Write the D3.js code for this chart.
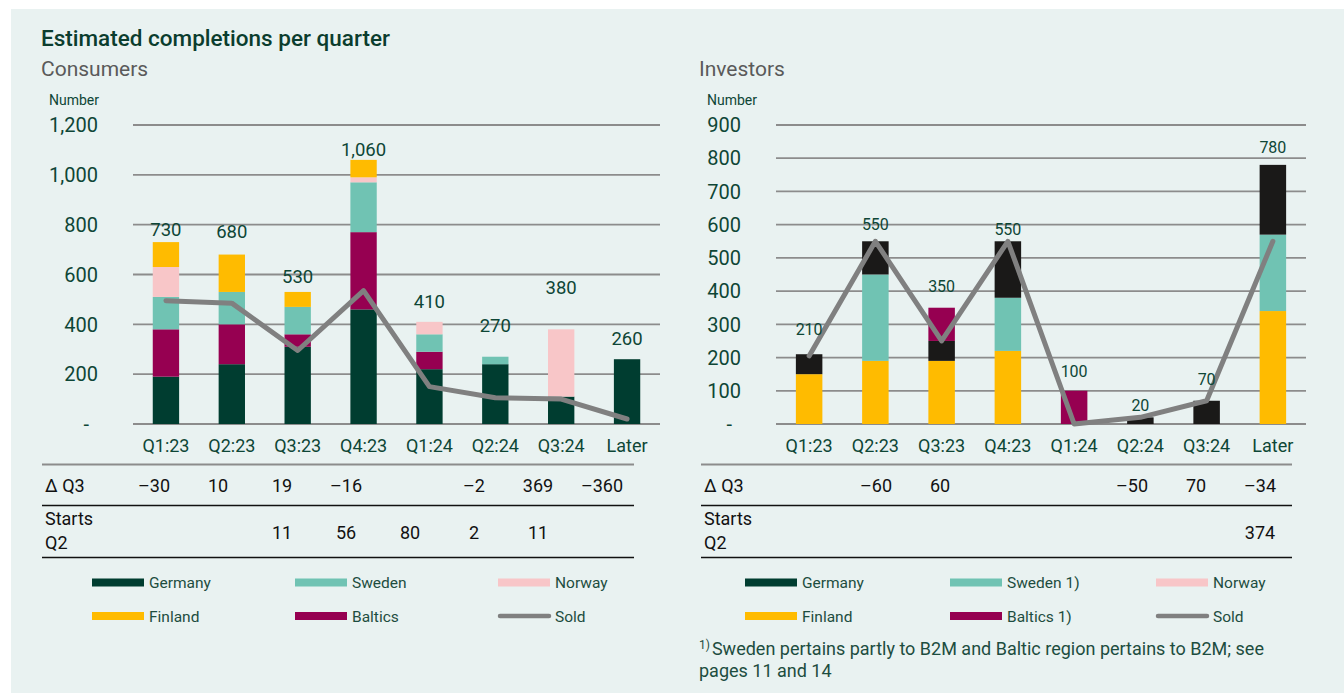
<!DOCTYPE html>
<html>
<head>
<meta charset="utf-8">
<script src="https://cdn.jsdelivr.net/npm/d3@7"></script>
<style>
  html, body { margin: 0; padding: 0; background: #ffffff; }
  svg { display: block; font-family: Roboto, "Noto Sans", sans-serif; }
</style>
</head>
<body>
<svg id="chart" width="1344" height="693"></svg>
<script>
// ---------- DATA ----------
const categories = ["Q1:23", "Q2:23", "Q3:23", "Q4:23", "Q1:24", "Q2:24", "Q3:24", "Later"];

// Consumers
const consumersGermany = [190, 240, 310, 460, 220, 240, 110, 260];
const consumersBaltics = [190, 160, 50, 310, 70, 0, 0, 0];
const consumersSweden  = [130, 130, 110, 200, 70, 30, 0, 0];
const consumersNorway  = [120, 0, 0, 20, 50, 0, 270, 0];
const consumersFinland = [100, 150, 60, 70, 0, 0, 0, 0];
const consumersSold    = [495, 485, 295, 535, 150, 105, 100, 20];
const consumersTotals  = [730, 680, 530, 1060, 410, 270, 380, 260];
const consumersLabelAt = [781, 774, 594, 1103, 494, 397, 547, 344];
const consumersTicks   = [0, 200, 400, 600, 800, 1000, 1200];
const consumersDelta   = ["\u201330", "10", "19", "\u201316", "", "\u20132", "369", "\u2013360"];
const consumersStarts  = ["", "", "11", "56", "80", "2", "11", ""];

// Investors
const investorsFinland = [150, 190, 190, 220, 0, 0, 0, 340];
const investorsSweden  = [0, 260, 0, 160, 0, 0, 0, 230];
const investorsGermany = [60, 100, 60, 170, 0, 20, 70, 210];
const investorsBaltics = [0, 0, 100, 0, 100, 0, 0, 0];
const investorsSold    = [205, 550, 250, 550, 0, 20, 70, 550];
const investorsTotals  = [210, 550, 350, 550, 100, 20, 70, 780];
const investorsLabelAt = [286, 602, 414, 586, 158, 55, 135, 832];
const investorsTicks   = [0, 100, 200, 300, 400, 500, 600, 700, 800, 900];
const investorsDelta   = ["", "\u201360", "60", "", "", "\u201350", "70", "\u201334"];
const investorsStarts  = ["", "", "", "", "", "", "", "374"];

// ---------- STYLE ----------
const C = {
  germany: "#003d30", sweden: "#70c3b3", norway: "#f8c6c8",
  finland: "#ffbb00", baltics: "#960051", black: "#1a1918", sold: "#808080",
  green: "#0e4636", grid: "#8c8c8c", bg: "#e9f2f1"
};

const svg = d3.select("#chart");
svg.append("rect").attr("x", 11).attr("y", 9).attr("width", 1333).attr("height", 684).attr("fill", C.bg);

svg.append("text").attr("x", 41).attr("y", 45.5)
  .attr("font-size", 22.5).attr("font-weight", 500).attr("fill", "#0b3d2e")
  .text("Estimated completions per quarter");

function drawPanel(cfg) {
  const g = svg.append("g");
  // subtitle
  g.append("text").attr("x", cfg.titleX).attr("y", 76).attr("font-size", 21)
    .attr("fill", "#5a5a5a").text(cfg.title);
  g.append("text").attr("x", cfg.numberX).attr("y", 105).attr("font-size", 14)
    .attr("fill", C.green).text("Number");

  const x = d3.scaleBand().domain(categories).range([cfg.gx0, cfg.gx1]).paddingInner(0.6).paddingOuter(0.3);
  const y = d3.scaleLinear().domain([0, cfg.max]).range([424, 125]);

  // gridlines
  g.append("g").selectAll("line").data(cfg.ticks).join("line")
    .attr("x1", cfg.gx0).attr("x2", cfg.gx1)
    .attr("y1", d => y(d)).attr("y2", d => y(d))
    .attr("stroke", C.grid).attr("stroke-width", 1.8);

  // tick labels
  g.append("g").selectAll("text").data(cfg.ticks).join("text")
    .attr("x", d => d === 0 ? cfg.tickRight - 9 : cfg.tickRight)
    .attr("y", d => y(d)).attr("dy", "0.36em")
    .attr("text-anchor", "end").attr("font-size", 20).attr("fill", C.green)
    .text(d => d === 0 ? "-" : d3.format(",")(d));

  // stacked bars
  const rows = categories.map((c, i) => {
    const r = { cat: c };
    cfg.series.forEach(s => r[s.key] = s.values[i]);
    return r;
  });
  const stack = d3.stack().keys(cfg.series.map(s => s.key))(rows);
  const colorOf = Object.fromEntries(cfg.series.map(s => [s.key, s.color]));
  g.append("g").selectAll("g").data(stack).join("g")
    .attr("fill", d => colorOf[d.key])
    .selectAll("rect").data(d => d.filter(p => p[1] - p[0] > 0)).join("rect")
    .attr("x", d => x(d.data.cat))
    .attr("width", x.bandwidth())
    .attr("y", d => y(d[1]))
    .attr("height", d => y(d[0]) - y(d[1]));

  // sold line
  const line = d3.line().x((d, i) => x(categories[i]) + x.bandwidth() / 2).y(d => y(d));
  g.append("path").datum(cfg.sold).attr("d", line)
    .attr("fill", "none").attr("stroke", C.sold).attr("stroke-width", 5)
    .attr("stroke-linejoin", "round").attr("stroke-linecap", "round");

  // value labels
  g.append("g").selectAll("text").data(cfg.totals).join("text")
    .attr("x", (d, i) => x(categories[i]) + x.bandwidth() / 2)
    .attr("y", (d, i) => y(cfg.labelAt[i])).attr("dy", "0.36em")
    .attr("text-anchor", "middle").attr("font-size", cfg.labelSize).attr("fill", C.green)
    .text(d => d3.format(",")(d));

  // category labels
  g.append("g").selectAll("text").data(categories).join("text")
    .attr("x", d => x(d) + x.bandwidth() / 2).attr("y", 452)
    .attr("text-anchor", "middle").attr("font-size", 18).attr("fill", C.green)
    .text(d => d);

  // table
  const col = d3.scalePoint().domain(categories).range([cfg.col0, cfg.col0 + 64 * 7]);
  g.append("line").attr("x1", cfg.tx0).attr("x2", cfg.tx1).attr("y1", 464.5).attr("y2", 464.5)
    .attr("stroke", C.grid).attr("stroke-width", 2.2);
  g.append("line").attr("x1", cfg.tx0).attr("x2", cfg.tx1).attr("y1", 505.5).attr("y2", 505.5)
    .attr("stroke", "#111").attr("stroke-width", 1.3);
  g.append("line").attr("x1", cfg.tx0).attr("x2", cfg.tx1).attr("y1", 557.5).attr("y2", 557.5)
    .attr("stroke", "#111").attr("stroke-width", 1.3);
  g.append("text").attr("x", cfg.tx0 + 3).attr("y", 492).attr("font-size", 18).attr("fill", "#111").text("\u0394 Q3");
  g.append("text").attr("x", cfg.tx0 + 3).attr("y", 525).attr("font-size", 18).attr("fill", "#111").text("Starts");
  g.append("text").attr("x", cfg.tx0 + 3).attr("y", 549).attr("font-size", 18).attr("fill", "#111").text("Q2");
  g.append("g").selectAll("text").data(cfg.delta).join("text")
    .attr("x", (d, i) => col(categories[i])).attr("y", 492)
    .attr("text-anchor", "middle").attr("font-size", 18).attr("fill", "#111").text(d => d);
  g.append("g").selectAll("text").data(cfg.starts).join("text")
    .attr("x", (d, i) => col(categories[i])).attr("y", 539)
    .attr("text-anchor", "middle").attr("font-size", 18).attr("fill", "#111").text(d => d);

  // legend
  const legend = g.append("g");
  cfg.legend.forEach((item, i) => {
    const lx = cfg.legX[i % 3];
    const ly = i < 3 ? 582.5 : 616;
    if (item.line) {
      legend.append("line").attr("x1", lx + 2).attr("x2", lx + 51).attr("y1", ly).attr("y2", ly)
        .attr("stroke", C.sold).attr("stroke-width", 4.5).attr("stroke-linecap", "round");
    } else {
      legend.append("rect").attr("x", lx).attr("y", ly - 4).attr("width", 52).attr("height", 8).attr("fill", item.color);
    }
    legend.append("text").attr("x", lx + 57).attr("y", ly).attr("dy", "0.36em")
      .attr("font-size", 15.5).attr("fill", "#1d4d40").text(item.name);
  });
}

drawPanel({
  title: "Consumers", titleX: 41, numberX: 49, tickRight: 98,
  gx0: 133, gx1: 660, max: 1200, ticks: consumersTicks,
  series: [
    { key: "Germany", values: consumersGermany, color: C.germany },
    { key: "Baltics", values: consumersBaltics, color: C.baltics },
    { key: "Sweden", values: consumersSweden, color: C.sweden },
    { key: "Norway", values: consumersNorway, color: C.norway },
    { key: "Finland", values: consumersFinland, color: C.finland }
  ],
  sold: consumersSold, totals: consumersTotals, labelAt: consumersLabelAt, labelSize: 18.5,
  delta: consumersDelta, starts: consumersStarts,
  tx0: 42, tx1: 634, col0: 154,
  legX: [92, 295, 498],
  legend: [
    { name: "Germany", color: C.germany }, { name: "Sweden", color: C.sweden }, { name: "Norway", color: C.norway },
    { name: "Finland", color: C.finland }, { name: "Baltics", color: C.baltics }, { name: "Sold", line: true }
  ]
});

drawPanel({
  title: "Investors", titleX: 699, numberX: 707, tickRight: 741,
  gx0: 776, gx1: 1306, max: 900, ticks: investorsTicks,
  series: [
    { key: "Finland", values: investorsFinland, color: C.finland },
    { key: "Sweden", values: investorsSweden, color: C.sweden },
    { key: "Germany", values: investorsGermany, color: C.black },
    { key: "Baltics", values: investorsBaltics, color: C.baltics }
  ],
  sold: investorsSold, totals: investorsTotals, labelAt: investorsLabelAt, labelSize: 16,
  delta: investorsDelta, starts: investorsStarts,
  tx0: 701, tx1: 1292, col0: 812,
  legX: [745, 950, 1156],
  legend: [
    { name: "Germany", color: C.germany }, { name: "Sweden 1)", color: C.sweden }, { name: "Norway", color: C.norway },
    { name: "Finland", color: C.finland }, { name: "Baltics 1)", color: C.baltics }, { name: "Sold", line: true }
  ]
});

// footnote
const fn = svg.append("text").attr("x", 699).attr("y", 655).attr("font-size", 18).attr("fill", "#1d4d40");
fn.append("tspan").attr("font-size", 12).attr("dy", -6).text("1)");
fn.append("tspan").attr("dy", 6).attr("dx", 2).text("Sweden pertains partly to B2M and Baltic region pertains to B2M; see");
svg.append("text").attr("x", 699).attr("y", 677).attr("font-size", 18).attr("fill", "#1d4d40").text("pages 11 and 14");
</script>
</body>
</html>
